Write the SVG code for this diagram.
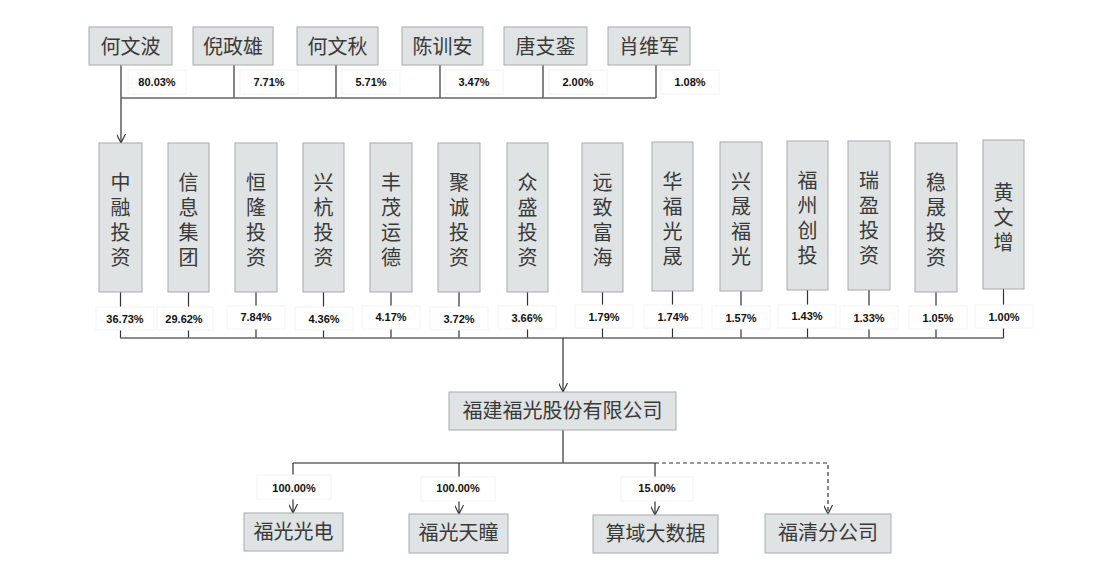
<svg xmlns="http://www.w3.org/2000/svg" width="1100" height="582" viewBox="0 0 1100 582">
<style>
.box{fill:#dfe3e3;stroke:#a8abab;stroke-width:1}
.t{font-family:"Noto Sans CJK SC","Noto Sans",sans-serif;font-size:20px;fill:#3a3a3a;text-anchor:middle}
.v{font-family:"Noto Sans CJK SC","Noto Sans",sans-serif;font-size:20px;fill:#3a3a3a;writing-mode:vertical-rl;text-anchor:start;letter-spacing:5px}
.p{font-family:"Liberation Sans",Arial,sans-serif;font-size:11px;font-weight:bold;fill:#111;text-anchor:middle}
.lb{fill:#ffffff;stroke:#f4f4f4;stroke-width:1}
.ln{stroke:#333;stroke-width:1.2;fill:none}
.hl{stroke:#666;stroke-width:1.5;fill:none}
.ds{stroke:#333;stroke-width:1.2;fill:none;stroke-dasharray:4,3}
</style>
<defs>
<marker id="arr" viewBox="0 0 10 10" refX="10" refY="5" markerWidth="9" markerHeight="9" markerUnits="userSpaceOnUse" orient="auto">
<path d="M0,0 L10,5 L0,10" fill="none" stroke="#333" stroke-width="1.3"/>
</marker>
</defs>
<rect width="1100" height="582" fill="#ffffff"/>

<g id="connectors">
<line class="ln" x1="121" y1="65" x2="121" y2="143" marker-end="url(#arr)"/>
<line class="ln" x1="234" y1="65" x2="234" y2="98"/>
<line class="ln" x1="336" y1="65" x2="336" y2="98"/>
<line class="ln" x1="440" y1="65" x2="440" y2="98"/>
<line class="ln" x1="543" y1="65" x2="543" y2="98"/>
<line class="ln" x1="656" y1="65" x2="656" y2="98"/>
<line class="hl" x1="121" y1="98" x2="656" y2="98"/>
<line class="ln" x1="120.5" y1="292" x2="120.5" y2="338"/>
<line class="ln" x1="188.5" y1="292" x2="188.5" y2="338"/>
<line class="ln" x1="256" y1="292" x2="256" y2="338"/>
<line class="ln" x1="323.5" y1="292" x2="323.5" y2="338"/>
<line class="ln" x1="391" y1="292" x2="391" y2="338"/>
<line class="ln" x1="459" y1="292" x2="459" y2="338"/>
<line class="ln" x1="527.5" y1="292" x2="527.5" y2="338"/>
<line class="ln" x1="602.5" y1="292" x2="602.5" y2="338"/>
<line class="ln" x1="672.5" y1="291" x2="672.5" y2="338"/>
<line class="ln" x1="741" y1="291" x2="741" y2="338"/>
<line class="ln" x1="807.5" y1="290" x2="807.5" y2="338"/>
<line class="ln" x1="869" y1="290" x2="869" y2="338"/>
<line class="ln" x1="936" y1="292" x2="936" y2="338"/>
<line class="ln" x1="1003.5" y1="289" x2="1003.5" y2="338"/>
<line class="hl" x1="120.5" y1="338" x2="1003.5" y2="338"/>
<line class="ln" x1="563" y1="338" x2="563" y2="392" marker-end="url(#arr)"/>
<line class="ln" x1="563" y1="430" x2="563" y2="463"/>
<line class="hl" x1="293" y1="463" x2="655" y2="463"/>
<line class="ln" x1="293" y1="463" x2="293" y2="513" marker-end="url(#arr)"/>
<line class="ln" x1="459" y1="463" x2="459" y2="514" marker-end="url(#arr)"/>
<line class="ln" x1="655" y1="463" x2="655" y2="515" marker-end="url(#arr)"/>
<polyline class="ds" points="655,463 828,463 828,514" marker-end="url(#arr)"/>
</g>

<g id="labels">
<rect class="lb" x="128" y="70" width="58" height="24"/><text class="p" x="157" y="86">80.03%</text>
<rect class="lb" x="240" y="70" width="58" height="24"/><text class="p" x="269" y="86">7.71%</text>
<rect class="lb" x="342" y="70" width="58" height="24"/><text class="p" x="371" y="86">5.71%</text>
<rect class="lb" x="445" y="70" width="58" height="24"/><text class="p" x="474" y="86">3.47%</text>
<rect class="lb" x="549" y="70" width="58" height="24"/><text class="p" x="578" y="86">2.00%</text>
<rect class="lb" x="661" y="70" width="58" height="24"/><text class="p" x="690" y="86">1.08%</text>

<rect class="lb" x="96" y="307" width="58" height="23"/><text class="p" x="125" y="323">36.73%</text>
<rect class="lb" x="157" y="307" width="56" height="23"/><text class="p" x="184" y="323">29.62%</text>
<rect class="lb" x="227" y="306" width="58" height="23"/><text class="p" x="256" y="321">7.84%</text>
<rect class="lb" x="295" y="307" width="58" height="23"/><text class="p" x="324" y="323">4.36%</text>
<rect class="lb" x="362" y="306" width="58" height="23"/><text class="p" x="391" y="321">4.17%</text>
<rect class="lb" x="430" y="307" width="58" height="23"/><text class="p" x="459" y="323">3.72%</text>
<rect class="lb" x="498" y="306" width="58" height="23"/><text class="p" x="527" y="322">3.66%</text>
<rect class="lb" x="575" y="305" width="58" height="23"/><text class="p" x="604" y="321">1.79%</text>
<rect class="lb" x="644" y="305" width="58" height="23"/><text class="p" x="673" y="321">1.74%</text>
<rect class="lb" x="712" y="306" width="58" height="23"/><text class="p" x="741" y="322">1.57%</text>
<rect class="lb" x="778" y="305" width="58" height="23"/><text class="p" x="807" y="320">1.43%</text>
<rect class="lb" x="840" y="306" width="58" height="23"/><text class="p" x="869" y="322">1.33%</text>
<rect class="lb" x="909" y="306" width="58" height="23"/><text class="p" x="938" y="322">1.05%</text>
<rect class="lb" x="975" y="305" width="58" height="23"/><text class="p" x="1004" y="321">1.00%</text>

<rect class="lb" x="257" y="475" width="74" height="24"/><text class="p" x="294" y="492">100.00%</text>
<rect class="lb" x="421" y="477" width="74" height="24"/><text class="p" x="458" y="492">100.00%</text>
<rect class="lb" x="621" y="477" width="72" height="24"/><text class="p" x="657" y="492">15.00%</text>
</g>

<g id="n-hewenbo"><rect class="box" x="89" y="27" width="83" height="38"/><text class="t" x="130.5" y="54">何文波</text></g>
<g id="n-nizhengxiong"><rect class="box" x="193" y="27" width="80" height="38"/><text class="t" x="233" y="54">倪政雄</text></g>
<g id="n-hewenqiu"><rect class="box" x="297" y="27" width="81" height="38"/><text class="t" x="337.5" y="54">何文秋</text></g>
<g id="n-chenxunan"><rect class="box" x="402" y="27" width="81" height="38"/><text class="t" x="442.5" y="54">陈训安</text></g>
<g id="n-tangzhiluan"><rect class="box" x="504" y="27" width="83" height="38"/><text class="t" x="545.5" y="54">唐支銮</text></g>
<g id="n-xiaoweijun"><rect class="box" x="608" y="27" width="82" height="38"/><text class="t" x="649" y="54">肖维军</text></g>

<g id="n-zhongrong"><rect class="box" x="99" y="143" width="43" height="149"/><text class="v" x="120.5" y="172">中融投资</text></g>
<g id="n-xinxi"><rect class="box" x="168" y="143" width="41" height="149"/><text class="v" x="188.5" y="172">信息集团</text></g>
<g id="n-henglong"><rect class="box" x="235" y="143" width="42" height="149"/><text class="v" x="256" y="172">恒隆投资</text></g>
<g id="n-xinghang"><rect class="box" x="303" y="143" width="41" height="149"/><text class="v" x="323.5" y="172">兴杭投资</text></g>
<g id="n-fengmao"><rect class="box" x="370" y="143" width="42" height="149"/><text class="v" x="391" y="172">丰茂运德</text></g>
<g id="n-jucheng"><rect class="box" x="438" y="143" width="42" height="149"/><text class="v" x="459" y="172">聚诚投资</text></g>
<g id="n-zhongsheng"><rect class="box" x="507" y="143" width="41" height="149"/><text class="v" x="527.5" y="172">众盛投资</text></g>
<g id="n-yuanzhi"><rect class="box" x="582" y="143" width="41" height="149"/><text class="v" x="602.5" y="172">远致富海</text></g>
<g id="n-huafu"><rect class="box" x="652" y="142" width="41" height="149"/><text class="v" x="672.5" y="171">华福光晟</text></g>
<g id="n-xingsheng"><rect class="box" x="720" y="142" width="42" height="149"/><text class="v" x="741" y="171">兴晟福光</text></g>
<g id="n-fuzhou"><rect class="box" x="787" y="141" width="41" height="149"/><text class="v" x="807.5" y="170">福州创投</text></g>
<g id="n-ruiying"><rect class="box" x="848" y="141" width="42" height="149"/><text class="v" x="869" y="170">瑞盈投资</text></g>
<g id="n-wensheng"><rect class="box" x="915" y="143" width="42" height="149"/><text class="v" x="936" y="172">稳晟投资</text></g>
<g id="n-huangwenzeng"><rect class="box" x="983" y="140" width="41" height="149"/><text class="v" x="1003.5" y="182">黄文增</text></g>

<g id="n-fuguang"><rect class="box" x="449" y="392" width="227" height="38"/><text class="t" x="562.5" y="418">福建福光股份有限公司</text></g>

<g id="n-guangdian"><rect class="box" x="244" y="513" width="99" height="38"/><text class="t" x="293.5" y="539">福光光电</text></g>
<g id="n-tiantong"><rect class="box" x="409" y="514" width="99" height="39"/><text class="t" x="458.5" y="540">福光天瞳</text></g>
<g id="n-suanyu"><rect class="box" x="593" y="515" width="125" height="38"/><text class="t" x="655.5" y="541">算域大数据</text></g>
<g id="n-fuqing"><rect class="box" x="765" y="514" width="126" height="39"/><text class="t" x="828" y="540">福清分公司</text></g>
</svg>
